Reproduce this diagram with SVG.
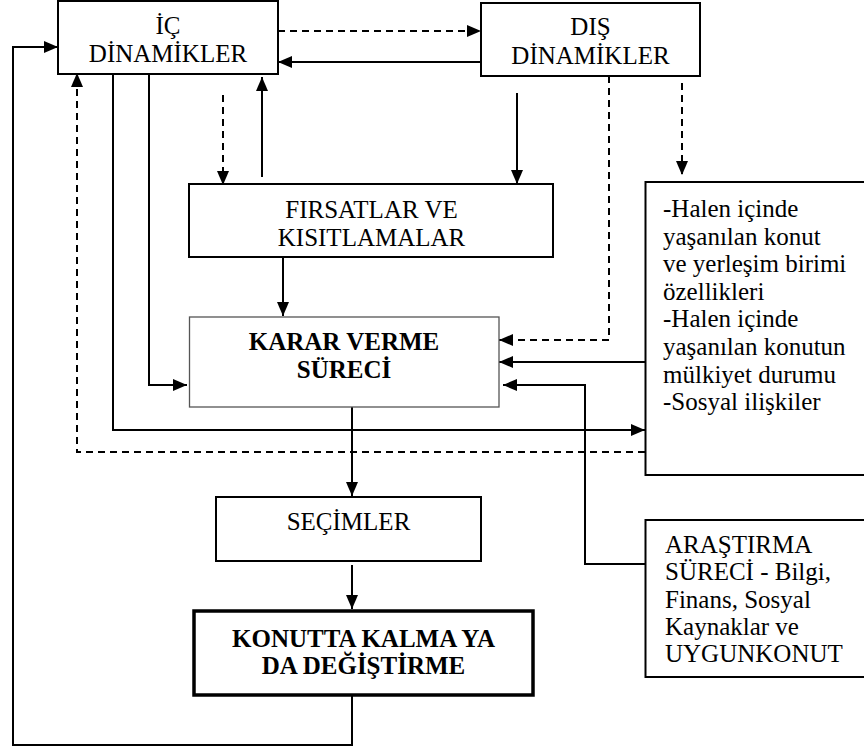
<svg xmlns="http://www.w3.org/2000/svg" width="864" height="749" viewBox="0 0 864 749" font-family="'Liberation Serif', 'Times New Roman', Times, serif">
<style>
text{font-family:'Liberation Serif','Times New Roman',Times,serif;font-size:25px;fill:#000}
.c{text-anchor:middle}
.b{font-weight:bold}
.box{fill:#fff;stroke:#000;stroke-width:2}
.thin{fill:#fff;stroke:#555;stroke-width:1.3}
.thick{fill:#fff;stroke:#000;stroke-width:3.5}
.ln{fill:none;stroke:#000;stroke-width:2}
.ds{fill:none;stroke:#000;stroke-width:2;stroke-dasharray:7 5}
</style>
<defs>
<marker id="ah" markerUnits="userSpaceOnUse" markerWidth="14" markerHeight="12" refX="14" refY="6" orient="auto" viewBox="0 0 14 12">
<path d="M0,0 L14,6 L0,12 z" fill="#000"/>
</marker>
</defs>
<rect width="864" height="749" fill="#fff"/>
<g id="connectors">
<path class="ds" d="M278,31 H481" marker-end="url(#ah)"/>
<path class="ln" d="M481,62 H278" marker-end="url(#ah)"/>
<path class="ln" d="M352,695 V745 H13 V47 H58" marker-end="url(#ah)"/>
<path class="ds" d="M645,452 H77 V73" marker-end="url(#ah)"/>
<path class="ln" d="M113,74 V430 H645" marker-end="url(#ah)"/>
<path class="ln" d="M149,70 V385 H187" marker-end="url(#ah)"/>
<path class="ds" d="M223,95 V185" marker-end="url(#ah)"/>
<path class="ln" d="M262,177 V77" marker-end="url(#ah)"/>
<path class="ln" d="M517,93 V184" marker-end="url(#ah)"/>
<path class="ds" d="M609,76 V340 H499" marker-end="url(#ah)"/>
<path class="ds" d="M682,83 V175" marker-end="url(#ah)"/>
<path class="ln" d="M645,362 H499" marker-end="url(#ah)"/>
<path class="ln" d="M645,564 H585 V385 H503" marker-end="url(#ah)"/>
<path class="ln" d="M283,257 V316" marker-end="url(#ah)"/>
<path class="ln" d="M352,407 V496" marker-end="url(#ah)"/>
<path class="ln" d="M352,565 V609" marker-end="url(#ah)"/>
</g>
<g id="ic">
<rect class="box" x="58" y="1" width="220" height="73"/>
<text class="c" x="168" y="34">İÇ</text>
<text class="c" x="168" y="62">DİNAMİKLER</text>
</g>
<g id="dis">
<rect class="box" x="481" y="3" width="219" height="73"/>
<text class="c" x="590.5" y="35">DIŞ</text>
<text class="c" x="590.5" y="64">DİNAMİKLER</text>
</g>
<g id="firsatlar">
<rect class="box" x="189" y="184" width="364" height="73"/>
<text class="c" x="371.5" y="218">FIRSATLAR VE</text>
<text class="c" x="371.5" y="245.5">KISITLAMALAR</text>
</g>
<g id="karar">
<rect class="thin" x="189.5" y="317" width="309.5" height="90"/>
<text class="c b" x="344" y="349.5">KARAR VERME</text>
<text class="c b" x="344" y="378">SÜRECİ</text>
</g>
<g id="secimler">
<rect class="box" x="216" y="497" width="265" height="64"/>
<text class="c" x="348.5" y="530">SEÇİMLER</text>
</g>
<g id="konutta">
<rect class="thick" x="194" y="611" width="339" height="84"/>
<text class="c b" x="363.5" y="647">KONUTTA KALMA YA</text>
<text class="c b" x="363.5" y="674">DA DEĞİŞTİRME</text>
</g>
<g id="ozellikler">
<rect class="box" x="645.5" y="182" width="240" height="293"/>
<text x="663" y="217">-Halen içinde</text>
<text x="663" y="244.5">yaşanılan konut</text>
<text x="663" y="272">ve yerleşim birimi</text>
<text x="663" y="299.5">özellikleri</text>
<text x="663" y="327">-Halen içinde</text>
<text x="663" y="355">yaşanılan konutun</text>
<text x="663" y="382.5">mülkiyet durumu</text>
<text x="663" y="410">-Sosyal ilişkiler</text>
</g>
<g id="arastirma">
<rect class="box" x="645.5" y="520" width="240" height="157"/>
<text x="665" y="553">ARAŞTIRMA</text>
<text x="665" y="580">SÜRECİ - Bilgi,</text>
<text x="665" y="607.5">Finans, Sosyal</text>
<text x="665" y="635">Kaynaklar ve</text>
<text x="665" y="662">UYGUNKONUT</text>
</g>
</svg>
